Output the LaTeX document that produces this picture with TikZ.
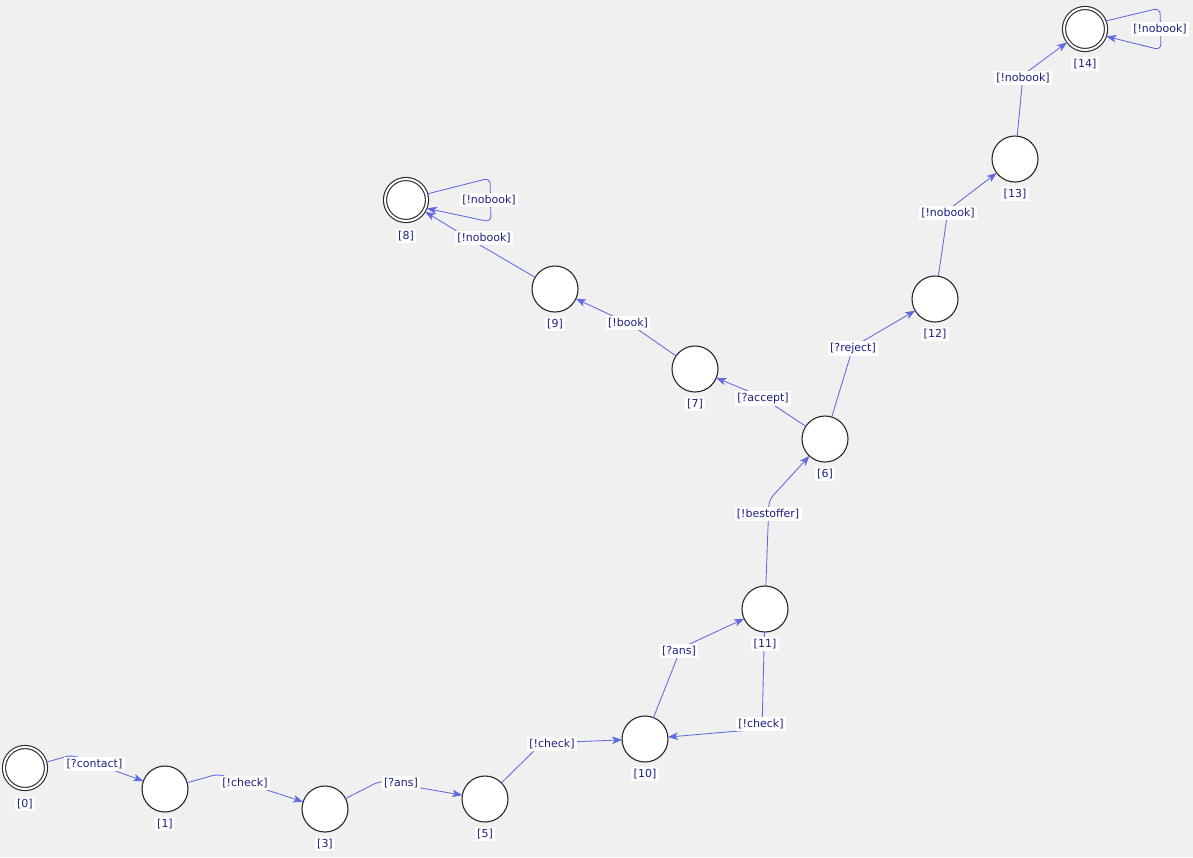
\documentclass[tikz,border=0pt]{standalone}
\usepackage{fontspec}
\setmainfont{DejaVu Sans}
\usetikzlibrary{arrows.meta}
\definecolor{bg}{RGB}{240,240,240}
\definecolor{edgec}{RGB}{95,105,225}
\definecolor{txt}{RGB}{30,30,130}
\definecolor{ring}{RGB}{40,40,40}
\tikzset{
  state/.style={circle, draw=ring, line width=1.1pt, fill=white, minimum size=46pt, inner sep=0pt, outer sep=0pt},
  final/.style={circle, draw=ring, line width=1.1pt, double=white, double distance=2pt, fill=white, minimum size=42pt, inner sep=0pt, outer sep=1.5pt},
  edge/.style={draw=edgec, line width=0.85pt, rounded corners=6pt, -{Stealth[length=10pt,width=7.5pt,inset=2.5pt]}},
  lab/.style={fill=white, text=txt, font=\fontsize{11}{13}\selectfont, inner sep=2.3pt, yshift=-1.2pt}
}
\begin{document}
\begin{tikzpicture}[x=1pt,y=-1pt]
\fill[bg] (0,0) rectangle (1193,857);
\useasboundingbox (0,0) rectangle (1193,857);
% states
\node[final] (n0) at (25,768) {};
\node[state] (n1) at (165,789) {};
\node[state] (n3) at (325,809) {};
\node[state] (n5) at (485,799) {};
\node[state] (n10) at (645,739) {};
\node[state] (n11) at (765,609) {};
\node[state] (n6) at (825,439) {};
\node[state] (n7) at (695,369) {};
\node[state] (n9) at (555,289) {};
\node[final] (n8) at (406,200) {};
\node[state] (n12) at (935,299) {};
\node[state] (n13) at (1015,159) {};
\node[final] (n14) at (1085,29) {};
% bend points
\coordinate (b01) at (72,755);
\coordinate (b13) at (218,774);
\coordinate (b35) at (380,781);
\coordinate (b510) at (542,743);
\coordinate (b1011) at (681,648);
\coordinate (b1110) at (762,729);
\coordinate (b116) at (769,500);
\coordinate (b67) at (760,396);
\coordinate (b79) at (630,324);
\coordinate (b98) at (468,238);
\coordinate (b612) at (853,347);
\coordinate (b1213) at (948,210);
\coordinate (b1314) at (1023,75);
\coordinate (l8a) at (490,178);
\coordinate (l8b) at (491,222);
\coordinate (l14a) at (1160,8);
\coordinate (l14b) at (1161,50);
% edges
\draw[edge] (n0) -- (b01) -- (n1);
\draw[edge] (n1) -- (b13) -- (n3);
\draw[edge] (n3) -- (b35) -- (n5);
\draw[edge] (n5) -- (b510) -- (n10);
\draw[edge] (n10) -- (b1011) -- (n11);
\draw[edge] (n11) -- (b1110) -- (n10);
\draw[edge] (n11) -- (b116) -- (n6);
\draw[edge] (n6) -- (b67) -- (n7);
\draw[edge] (n7) -- (b79) -- (n9);
\draw[edge] (n9) -- (b98) -- (n8);
\draw[edge] (n8.16) -- (l8a) -- (l8b) -- (n8.-22);
\draw[edge] (n6) -- (b612) -- (n12);
\draw[edge] (n12) -- (b1213) -- (n13);
\draw[edge] (n13) -- (b1314) -- (n14);
\draw[edge] (n14.21) -- (l14a) -- (l14b) -- (n14.-19);
% edge labels
\node[lab] (t01) at (94.5,763) {[?contact]};
\node[lab] (t13) at (245,782) {[!check]};
\node[lab] (t35) at (401,782) {[?ans]};
\node[lab] (t510) at (552,743) {[!check]};
\node[lab] (t1011) at (679,650) {[?ans]};
\node[lab] (t1110) at (761,723) {[!check]};
\node[lab] (t116) at (768,513) {[!bestoffer]};
\node[lab] (t67) at (763,397) {[?accept]};
\node[lab] (t79) at (628,322) {[!book]};
\node[lab] (t98) at (484,237) {[!nobook]};
\node[lab] (t88) at (489,199) {[!nobook]};
\node[lab] (t612) at (853,347) {[?reject]};
\node[lab] (t1213) at (948,212) {[!nobook]};
\node[lab] (t1314) at (1023,77) {[!nobook]};
\node[lab] (t1414) at (1160,28) {[!nobook]};
% state labels
\node[lab] (s0) at (25,803) {[0]};
\node[lab] (s1) at (165,823) {[1]};
\node[lab] (s3) at (325,843) {[3]};
\node[lab] (s5) at (485,833) {[5]};
\node[lab] (s10) at (645,773) {[10]};
\node[lab] (s11) at (765,643) {[11]};
\node[lab] (s6) at (825,473) {[6]};
\node[lab] (s7) at (695,403) {[7]};
\node[lab] (s9) at (555,323) {[9]};
\node[lab] (s8) at (406,235) {[8]};
\node[lab] (s12) at (935,333) {[12]};
\node[lab] (s13) at (1015,193) {[13]};
\node[lab] (s14) at (1085,63) {[14]};
\end{tikzpicture}
\end{document}
